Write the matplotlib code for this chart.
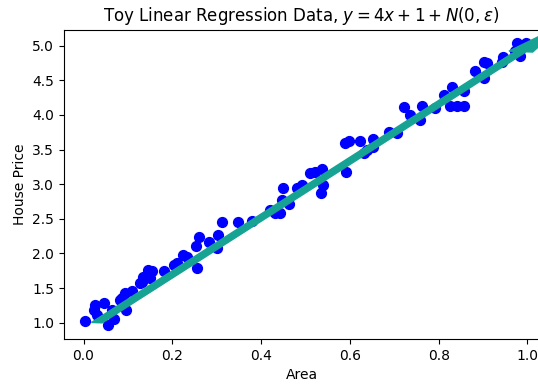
import matplotlib
matplotlib.use("Agg")
import matplotlib.pyplot as plt

# точки
area = [0.004, 0.026, 0.023, 0.045, 0.030, 0.054, 0.068, 0.064, 0.096, 0.086,
        0.094, 0.109, 0.083, 0.128, 0.135, 0.146, 0.154, 0.150, 0.131, 0.182,
        0.203, 0.210, 0.225, 0.233, 0.255, 0.254, 0.261, 0.282, 0.304, 0.300,
        0.313, 0.348, 0.379, 0.420, 0.432, 0.443, 0.447, 0.462, 0.450, 0.481,
        0.492, 0.511, 0.522, 0.537, 0.539, 0.535, 0.592, 0.590, 0.599, 0.622,
        0.631, 0.638, 0.652, 0.653, 0.687, 0.706, 0.722, 0.736, 0.758, 0.762,
        0.792, 0.811, 0.830, 0.856, 0.826, 0.841, 0.856, 0.882, 0.901, 0.902,
        0.909, 0.942, 0.946, 0.972, 0.976, 0.984, 0.997]
price = [1.03, 1.25, 1.18, 1.28, 1.11, 0.96, 1.06, 1.18, 1.18, 1.35,
         1.43, 1.46, 1.33, 1.57, 1.66, 1.76, 1.74, 1.64, 1.59, 1.75,
         1.83, 1.86, 1.98, 1.95, 1.79, 2.11, 2.24, 2.17, 2.27, 2.08,
         2.46, 2.46, 2.47, 2.63, 2.58, 2.58, 2.77, 2.72, 2.94, 2.94,
         2.99, 3.16, 3.17, 3.22, 2.99, 2.87, 3.18, 3.59, 3.63, 3.62,
         3.45, 3.50, 3.65, 3.54, 3.76, 3.74, 4.11, 4.00, 3.93, 4.13,
         4.10, 4.29, 4.40, 4.34, 4.13, 4.13, 4.13, 4.63, 4.53, 4.77,
         4.75, 4.77, 4.84, 4.92, 5.04, 4.85, 5.04]

# стрелка линии регрессии
arrow_start = (0.03, 1.0)
arrow_delta = (0.955, 3.915)

fig = plt.figure(figsize=(5.38, 3.85), dpi=100)
ax = fig.add_axes([64 / 538, 1 - 339 / 385, 475 / 538, 309.5 / 385])

ax.scatter(area, price, color='b', s=50)
ax.arrow(arrow_start[0], arrow_start[1], arrow_delta[0], arrow_delta[1],
         width=0.025, head_width=0.055, head_length=0.4, color='#17a394')

ax.set_xlim(-0.044, 1.026)
ax.set_ylim(0.764, 5.234)
ax.set_title("Toy Linear Regression Data, $y = 4x + 1 + N(0, \\epsilon)$")
ax.set_xlabel("Area")
ax.set_ylabel("House Price")

fig.savefig("out.png", dpi=100)
